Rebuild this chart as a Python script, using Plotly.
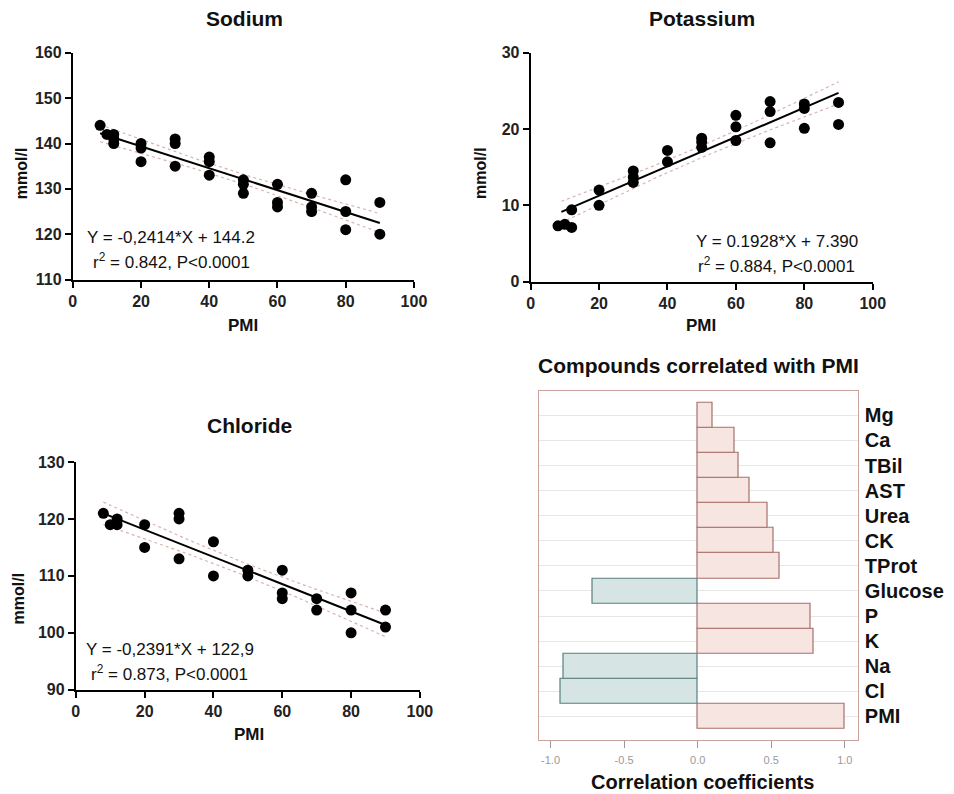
import numpy as np
import plotly.graph_objects as go

# ---------------- data ----------------
na_x = [8, 10, 12, 12, 12, 20, 20, 20, 30, 30, 30, 40, 40, 40, 50, 50, 50,
        60, 60, 60, 70, 70, 70, 80, 80, 80, 90, 90]
na_y = [144, 142, 142, 141, 140, 140, 139, 136, 141, 140, 135, 137, 136, 133,
        132, 131, 129, 131, 127, 126, 129, 126, 125, 132, 125, 121, 127, 120]

k_x = [8, 10, 12, 12, 20, 20, 30, 30, 30, 40, 40, 50, 50, 50,
       60, 60, 60, 70, 70, 70, 80, 80, 80, 90, 90]
k_y = [7.3, 7.5, 7.1, 9.4, 12.0, 10.0, 14.5, 13.7, 13.0, 17.2, 15.7, 18.8, 18.3, 17.6,
       21.8, 20.3, 18.5, 23.6, 22.3, 18.2, 23.3, 22.7, 20.1, 23.5, 20.6]

cl_x = [8, 10, 12, 12, 20, 20, 30, 30, 30, 40, 40, 50, 50,
        60, 60, 60, 70, 70, 80, 80, 80, 90, 90]
cl_y = [121, 119, 120, 119, 119, 115, 121, 120, 113, 116, 110, 111, 110,
        111, 107, 106, 106, 104, 107, 104, 100, 104, 101]

na_fit = (-0.2414, 144.2)
k_fit = (0.1928, 7.390)
cl_fit = (-0.2391, 122.9)

compounds = ["PMI", "Cl", "Na", "K", "P", "Glucose", "TProt", "CK", "Urea",
             "AST", "TBil", "Ca", "Mg"]
corr = [1.0, -0.934, -0.914, 0.789, 0.769, -0.714, 0.558, 0.517, 0.476,
        0.354, 0.277, 0.25, 0.104]

W, H = 968, 806
SX, OX = 0.985, 1.0
SY, OY = 0.976, 8.3


def fx(xr):
    return (xr - OX) / SX


def fy(yr):
    return (yr - OY) / SY


def dx(a, b):
    return [fx(a) / W, fx(b) / W]


def dy(top, bottom):
    return [1 - fy(bottom) / H, 1 - fy(top) / H]


fig = go.Figure()

FONT = "Liberation Sans, Arial, sans-serif"


def ci_band(xs, ys, slope, icpt, x0, x1):
    xs = np.asarray(xs, float)
    ys = np.asarray(ys, float)
    n = len(xs)
    res = ys - (slope * xs + icpt)
    s = np.sqrt(np.sum(res ** 2) / (n - 2))
    xm = xs.mean()
    sxx = np.sum((xs - xm) ** 2)
    xx = np.linspace(x0, x1, 60)
    se = s * np.sqrt(1 / n + (xx - xm) ** 2 / sxx)
    yy = slope * xx + icpt
    t = 2.06
    return xx, yy - t * se, yy + t * se


def scatter_panel(idx, xs, ys, fit, x0):
    xa = "x" if idx == 1 else f"x{idx}"
    ya = "y" if idx == 1 else f"y{idx}"
    xx, lo, hi = ci_band(xs, ys, fit[0], fit[1], x0, 90)
    for band in (lo, hi):
        fig.add_trace(go.Scatter(x=xx, y=band, mode="lines", xaxis=xa, yaxis=ya,
                                 line=dict(color="#d8b4b0", width=1.2, dash="dot"),
                                 showlegend=False, hoverinfo="skip"))
    lx = [x0, 90]
    fig.add_trace(go.Scatter(x=lx, y=[fit[0] * v + fit[1] for v in lx], mode="lines",
                             xaxis=xa, yaxis=ya, line=dict(color="black", width=2),
                             showlegend=False))
    fig.add_trace(go.Scatter(x=xs, y=ys, mode="markers", xaxis=xa, yaxis=ya,
                             marker=dict(color="black", size=11),
                             showlegend=False))


scatter_panel(1, na_x, na_y, na_fit, 8)
scatter_panel(2, k_x, k_y, k_fit, 9)
scatter_panel(3, cl_x, cl_y, cl_fit, 8)

# bar chart
pos_col = ["#f6e5e1" if v >= 0 else "#d6e5e3" for v in corr]
line_col = ["#a8706a" if v >= 0 else "#55807e" for v in corr]
fig.add_trace(go.Bar(x=corr, y=list(range(len(compounds))), orientation="h",
                     xaxis="x4", yaxis="y4",
                     marker=dict(color=pos_col, line=dict(color=line_col, width=1.2)),
                     width=1.0, showlegend=False))

tickfont = dict(family=FONT, size=16, color="#222222", weight="bold")
common_x = dict(showline=True, linecolor="black", linewidth=2, ticks="outside",
                ticklen=6, tickwidth=2, tickcolor="black", showgrid=False,
                zeroline=False, tickfont=tickfont, range=[0, 100],
                tickvals=[0, 20, 40, 60, 80, 100])
common_y = dict(showline=True, linecolor="black", linewidth=2, ticks="outside",
                ticklen=6, tickwidth=2, tickcolor="black", showgrid=False,
                zeroline=False, tickfont=tickfont)

fig.update_layout(
    width=W, height=H,
    margin=dict(l=0, r=0, t=0, b=0),
    paper_bgcolor="white", plot_bgcolor="white",
    font=dict(family=FONT),
    xaxis=dict(domain=dx(70, 412), anchor="y", **common_x),
    yaxis=dict(domain=dy(53, 279), anchor="x", range=[110, 160],
               tickvals=[110, 120, 130, 140, 150, 160], **common_y),
    xaxis2=dict(domain=dx(529, 872), anchor="y2", **common_x),
    yaxis2=dict(domain=dy(53, 281), anchor="x2", range=[0, 30],
                tickvals=[0, 10, 20, 30], **common_y),
    xaxis3=dict(domain=dx(73, 418), anchor="y3", **common_x),
    yaxis3=dict(domain=dy(461, 688), anchor="x3", range=[90, 130],
                tickvals=[90, 100, 110, 120, 130], **common_y),
    xaxis4=dict(domain=dx(537, 857), anchor="y4", range=[-1.081, 1.088],
                tickvals=[-1, -0.5, 0, 0.5, 1],
                ticktext=["-1.0", "-0.5", "0.0", "0.5", "1.0"],
                showline=True, linecolor="#c9a39c", linewidth=1.2, mirror=True,
                ticks="outside", ticklen=7, tickcolor="#999999", tickwidth=1,
                ticklabelstandoff=3,
                showgrid=False, zeroline=False,
                tickfont=dict(family=FONT, size=11, color="#999999")),
    yaxis4=dict(domain=dy(390, 738), anchor="x4", range=[-0.94, 12.98],
                tickvals=list(range(len(compounds))), ticktext=compounds,
                side="right", showline=True, linecolor="#c9a39c", linewidth=1.2,
                mirror=True, ticks="", showgrid=True, gridcolor="#e6e6e6",
                gridwidth=1, zeroline=False, ticklabelstandoff=2,
                tickfont=dict(family=FONT, size=20, color="#111111", weight="bold")),
    bargap=0,
)

ann = []


def text(x, y, s, size=15, bold=False, angle=0, xanchor="center", color="#111111"):
    t = f"<b>{s}</b>" if bold else s
    ann.append(dict(x=fx(x) / W, y=1 - fy(y) / H, xref="paper", yref="paper", text=t,
                    showarrow=False, textangle=angle, xanchor=xanchor,
                    yanchor="middle", font=dict(family=FONT, size=size, color=color)))


# titles
text(242, 19, "Sodium", 21, True)
text(701, 19, "Potassium", 21, True)
text(247, 425, "Chloride", 21, True)
text(697, 365, "Compounds correlated with PMI", 21, True)
# axis titles
text(241, 325, "PMI", 17, True)
text(700, 325, "PMI", 17, True)
text(247, 733, "PMI", 17, True)
text(701, 780, "Correlation coefficients", 20, True)
text(18, 173, "mmol/l", 16, True, angle=-90)
text(478, 173, "mmol/l", 16, True, angle=-90)
text(15, 597, "mmol/l", 16, True, angle=-90)
# equations
text(82, 237, "Y = -0,2414*X + 144.2", 17, xanchor="left")
text(88, 261, "r<sup>2</sup> = 0.842, P<0.0001", 17, xanchor="left")
text(859, 241, "Y = 0.1928*X + 7.390", 17, xanchor="right")
text(856, 265, "r<sup>2</sup> = 0.884, P<0.0001", 17, xanchor="right")
text(81, 648, "Y = -0,2391*X + 122,9", 17, xanchor="left")
text(86, 671, "r<sup>2</sup> = 0.873, P<0.0001", 17, xanchor="left")

fig.update_layout(annotations=ann)

fig.write_html("out.html",
               config={"displayModeBar": False},
               post_script="document.body.style.margin='0';"
                           "document.documentElement.style.overflow='hidden';")
